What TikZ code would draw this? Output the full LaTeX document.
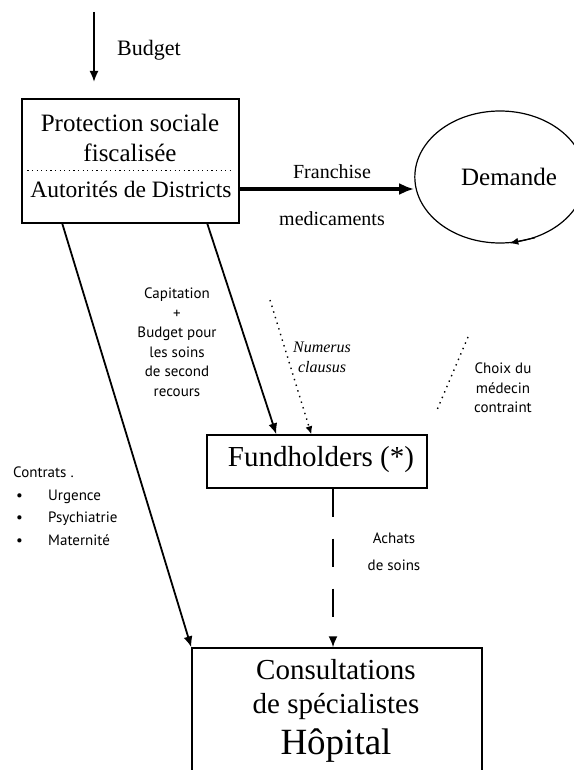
\documentclass[tikz,border=0pt]{standalone}
\usepackage{fontspec}
\setmainfont{Liberation Serif}
\newfontfamily\lblsans{PT Sans}
\usetikzlibrary{arrows.meta,shapes.geometric}

\tikzset{
  box/.style={draw, line width=1.4pt, inner sep=0pt},
  arr/.style={line width=1.8pt, -{Latex[length=11pt,width=9pt]}},
  sans/.style={font=\lblsans\fontsize{15}{19.5}\selectfont, align=center, inner sep=0pt},
  dots/.style={line width=1.4pt, dash pattern=on 1.4pt off 4.5pt},
}

\begin{document}
\begin{tikzpicture}[x=1pt,y=-1pt]
      \useasboundingbox (0,0) rectangle (573,770);

      \node [box,minimum width=217pt,minimum height=124pt] (pso) at (130.5,161) {};
      \node [font=\fontsize{25}{30}\selectfont,align=center] (prot) at (130,138) {Protection sociale\\fiscalisée};
      \node [font=\fontsize{23.5}{28}\selectfont] (dist) at (131,189) {Autorités de Districts};
      \draw [line width=1pt,dash pattern=on 1.2pt off 3.4pt,shorten <=6pt,shorten >=6pt] (pso.west |- 0,171) -- (pso.east |- 0,171);

      \node [draw,ellipse,line width=1.2pt,minimum width=154pt,minimum height=132pt,font=\fontsize{25}{30}\selectfont] (dem) at (500,177) {\hspace{18pt}Demande};
      \node [box,minimum width=220pt,minimum height=53pt] (fund) at (317,461.5) {};
      \node [font=\fontsize{29}{32}\selectfont] (fundlbl) at (321,460) {Fundholders (*)};
      \node [box,minimum width=290pt,minimum height=150pt] (hosp) at (337,723) {};
      \node [align=center,font=\fontsize{29}{34}\selectfont] (hosplbl) at (336,711) {Consultations\\de spécialistes\\[7pt]{\fontsize{37}{40}\selectfont Hôpital}};

      \coordinate (btop) at (94,12);
      \coordinate (btip) at (94,82);
      \coordinate (ncl) at (270,300);
      \coordinate (cha) at (468,337);
      \coordinate (chb) at (437,410);

      \draw [arr] (btop) -- (btip);
      \node [font=\fontsize{22}{26}\selectfont] (bud) at (149,50) {Budget};

      \draw [line width=3.5pt,-{Latex[length=15pt,width=12pt]}] (pso.east |- dist) -- (dem.west |- dist);
      \node [font=\fontsize{20}{24}\selectfont] (fra) at (332,172) {Franchise};
      \node [font=\fontsize{20}{24}\selectfont] (med) at (332,219) {medicaments};
      \draw [line width=1.2pt,-{Latex[length=9pt,width=7pt]}] (dem.-60) -- (dem.-82);

      \draw [arr] ([xshift=41pt]pso.south west) -- (hosp.north west);
      \draw [arr] ([xshift=186pt]pso.south west) -- ([xshift=70pt]fund.north west);
      \node [sans] (cap) at (177,342) {Capitation\\+\\Budget pour\\les soins\\de second\\recours};

      \draw [dots,-{Latex[length=8pt,width=7pt]}] (ncl) -- ([xshift=105pt]fund.north west);
      \node [font=\itshape\fontsize{16}{20}\selectfont,align=center] (num) at (322,357) {Numerus\\clausus};

      \draw [dots] (cha) -- (chb);
      \node [sans] (cho) at (503,388) {Choix du\\médecin\\contraint};

      \draw [line width=1.8pt,dash pattern=on 28pt off 22pt,-{Latex[length=11pt,width=9pt]}] ([xshift=16pt]fund.south) -- ([xshift=-4pt]hosp.north);
      \node [sans,font=\lblsans\fontsize{15}{27}\selectfont] (ach) at (394,552) {Achats\\de soins};

      \node [sans,align=left,anchor=west,font=\lblsans\fontsize{15}{22.5}\selectfont] (ctr) at (13,506) {Contrats .\\\makebox[35pt][l]{\hspace{3pt}\textbullet}Urgence\\\makebox[35pt][l]{\hspace{3pt}\textbullet}Psychiatrie\\\makebox[35pt][l]{\hspace{3pt}\textbullet}Maternité};
    \end{tikzpicture}
\end{document}
